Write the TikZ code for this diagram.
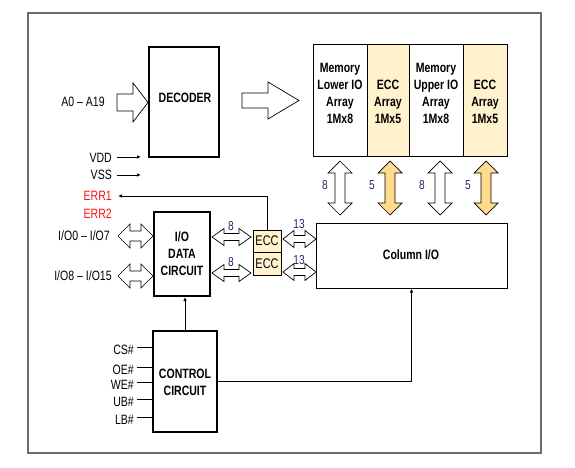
\documentclass[tikz,border=0pt]{standalone}
\usepackage{fontspec}
\setmainfont{Liberation Sans}[FakeStretch=0.78]
\usetikzlibrary{arrows.meta}
\definecolor{cellbeige}{HTML}{FFF2CC}
\definecolor{arrbeige}{HTML}{FFDA8C}
\definecolor{numblue}{HTML}{1F2A66}
\definecolor{errred}{HTML}{FF1010}
\definecolor{framegray}{HTML}{6A6A6A}
\newcommand{\hdarr}[7]{% x1 x2 yc headhalf shafthalf headlen fill
  \draw[line width=0.7pt,fill=#7] (#1,#3) -- (#1+#6,#3-#4) -- (#1+#6,#3-#5) -- (#2-#6,#3-#5) -- (#2-#6,#3-#4) -- (#2,#3)
   -- (#2-#6,#3+#4) -- (#2-#6,#3+#5) -- (#1+#6,#3+#5) -- (#1+#6,#3+#4) -- cycle;}
\newcommand{\vdarr}[7]{% y1 y2 xc headhalf shafthalf headlen fill
  \draw[line width=0.7pt,fill=#7] (#3,#1) -- (#3-#4,#1+#6) -- (#3-#5,#1+#6) -- (#3-#5,#2-#6) -- (#3-#4,#2-#6) -- (#3,#2)
   -- (#3+#4,#2-#6) -- (#3+#5,#2-#6) -- (#3+#5,#1+#6) -- (#3+#4,#1+#6) -- cycle;}
\newcommand{\hsarr}[6]{% x1 x2 yc headhalf shafthalf headstart
  \draw[line width=0.7pt,fill=white] (#1,#3-#5) -- (#6,#3-#5) -- (#6,#3-#4) -- (#2,#3) -- (#6,#3+#4) -- (#6,#3+#5) -- (#1,#3+#5) -- cycle;}
\begin{document}
\begin{tikzpicture}[x=1pt,y=-1pt,
  lbl/.style={font=\fontsize{13.5}{17}\selectfont, inner sep=0pt},
  blbl/.style={font=\bfseries\fontsize{13.5}{17}\selectfont, inner sep=0pt, align=center},
  num/.style={font=\fontsize{13}{14}\selectfont, inner sep=0pt, text=numblue},
  thickbox/.style={draw, line width=2pt, fill=white, inner sep=0pt},
  thinbox/.style={draw, line width=1pt, inner sep=0pt},
  wire/.style={line width=0.8pt},
  sig/.style={line width=0.8pt, -{Latex[length=4pt,width=3.5pt]}}]
\useasboundingbox (0,0) rectangle (575,468);
\draw[framegray, line width=1.5pt] (28,13) rectangle (541,453);
% decoder
\node[thickbox, minimum width=70pt, minimum height=110pt] (dec) at (184,102) {};
\node[blbl] (dect) at (185,98) {DECODER};
\node[lbl] (a0) at (83,102) {A0 -- A19};
\hsarr{117}{148}{102.5}{19.5}{8.5}{133}
\hsarr{242}{299}{100.5}{18.5}{7.5}{268}
% memory arrays
\node[thinbox, fill=white, minimum width=54pt, minimum height=111pt] (m1) at (340,100.5) {};
\node[thinbox, fill=cellbeige, minimum width=42pt, minimum height=111pt] (e1) at (388,100.5) {};
\node[thinbox, fill=white, minimum width=54pt, minimum height=111pt] (m2) at (436,100.5) {};
\node[thinbox, fill=cellbeige, minimum width=44pt, minimum height=111pt] (e2) at (485,100.5) {};
\node[blbl] (m1t) at (340,93.5) {Memory\\Lower IO\\Array\\1Mx8};
\node[blbl] (e1t) at (388,102) {ECC\\Array\\1Mx5};
\node[blbl] (m2t) at (436,93.5) {Memory\\Upper IO\\Array\\1Mx8};
\node[blbl] (e2t) at (485,102) {ECC\\Array\\1Mx5};
% vertical arrows
\vdarr{161}{215}{340}{12}{5}{12}{white}
\vdarr{161}{215}{390}{12}{5}{12}{arrbeige}
\vdarr{161}{215}{440}{12}{5}{12}{white}
\vdarr{161}{215}{486}{12}{5}{12}{arrbeige}
\node[num] (n1) at (325,185) {8};
\node[num] (n2) at (372,185) {5};
\node[num] (n3) at (422,185) {8};
\node[num] (n4) at (468,185) {5};
% column IO
\node[thinbox, fill=white, minimum width=191pt, minimum height=65pt] (col) at (411.5,255.5) {};
\node[blbl] (colt) at (411,255) {Column I/O};
% ECC boxes
\node[thinbox, fill=cellbeige, minimum width=28pt, minimum height=22pt, font=\fontsize{14}{15}\selectfont] (ecc1) at (267,241) {ECC};
\node[thinbox, fill=cellbeige, minimum width=28pt, minimum height=23pt, font=\fontsize{14}{15}\selectfont] (ecc2) at (267,263.5) {ECC};
% IO data circuit
\node[thickbox, minimum width=56pt, minimum height=84pt] (io) at (182,254) {};
\node[blbl] (iot) at (182,254) {I/O\\DATA\\CIRCUIT};
% IO arrows
\hdarr{118}{153}{236}{12}{5}{12}{white}
\hdarr{118}{153}{276}{12}{5}{12}{white}
\node[lbl] (io0) at (84,236) {I/O0 -- I/O7};
\node[lbl] (io8) at (83,276) {I/O8 -- I/O15};
\hdarr{212}{251}{237}{8.5}{3.5}{12}{white}
\hdarr{212}{251}{273}{8.5}{3.5}{12}{white}
\node[num] (n5) at (231,226) {8};
\node[num] (n6) at (231,262) {8};
\hdarr{283}{316}{239}{8.5}{3.5}{11}{white}
\hdarr{283}{316}{272}{8.5}{3.5}{11}{white}
\node[num] (n7) at (299,224) {13};
\node[num] (n8) at (299,260) {13};
% power and error
\node[lbl, anchor=east] (vdd) at (112,158) {VDD};
\node[lbl, anchor=east] (vss) at (112,175) {VSS};
\node[lbl, anchor=east, text=errred] (err1) at (112,196) {ERR1};
\node[lbl, anchor=east, text=errred] (err2) at (112,214) {ERR2};
\coordinate (vdd1) at (117,157);
\coordinate (vdd2) at (141,157);
\coordinate (vss1) at (117,175);
\coordinate (vss2) at (141,175);
\draw[sig] (vdd1) -- (vdd2);
\draw[sig] (vss1) -- (vss2);
\draw[sig] (ecc1.north) |- ([xshift=6pt]err1.east);
% control
\node[thickbox, minimum width=64pt, minimum height=101pt] (ctl) at (185,381.5) {};
\node[blbl] (ctlt) at (185,382.5) {CONTROL\\CIRCUIT};
\draw[sig] (ctl.north) -- (ctl.north |- io.south);
\draw[sig] (ctl.east) -| (col.south);
\foreach \nm/\yy in {CS\#/347, OE\#/367, WE\#/382, UB\#/399, LB\#/417}{
  \node[lbl, anchor=east] (l\yy) at (134,\yy+2.5) {\nm};
  \coordinate (c\yy) at (137,\yy);
  \draw[wire] (c\yy) -- (c\yy -| ctl.west);
}
\end{tikzpicture}
\end{document}
